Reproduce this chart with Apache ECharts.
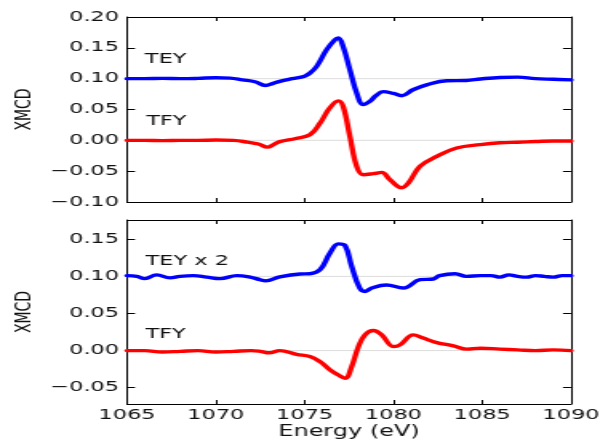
<!DOCTYPE html>
<html><head><meta charset="utf-8">
<script src="https://cdn.jsdelivr.net/npm/echarts@6/dist/echarts.min.js"></script>
<style>
html,body{margin:0;padding:0;background:#fff;overflow:hidden;}
#wrap{width:603px;height:441px;overflow:hidden;position:relative;background:#fff;}
#chart{width:377px;height:441px;transform:scaleX(1.6);transform-origin:0 0;}
</style></head><body>
<div id="wrap"><div id="chart"></div></div>
<script>
// ---- data (energy in eV, XMCD values) ----
const xTicks = [1065, 1070, 1075, 1080, 1085, 1090];
const yTicksTop = [-0.10, -0.05, 0.00, 0.05, 0.10, 0.15, 0.20];
const yTicksBottom = [-0.05, 0.00, 0.05, 0.10, 0.15];
const baselines = [0.10, 0.00];

const teyTopE = [1065.0,1066.0,1067.0,1068.0,1069.0,1070.0,1070.8,1071.5,1072.2,1072.8,1073.2,1073.6,1074.3,1075.0,1075.3,1075.68,1076.24,1076.7,1076.9,1077.17,1077.55,1077.93,1078.3,1078.67,1079.0,1079.43,1080.0,1080.47,1081.1,1081.87,1083.0,1084.1,1084.9,1086.0,1087.0,1088.0,1089.0,1090.0];
const teyTopV = [0.100,0.100,0.1005,0.100,0.1005,0.1015,0.1008,0.098,0.095,0.089,0.092,0.0956,0.100,0.104,0.109,0.120,0.147,0.163,0.166,0.152,0.1145,0.077,0.058,0.063,0.072,0.079,0.076,0.0724,0.082,0.090,0.0967,0.097,0.0995,0.102,0.1025,0.100,0.099,0.098];

const tfyTopE = [1065.0,1066.0,1067.0,1068.0,1069.0,1070.0,1071.0,1071.8,1072.4,1072.9,1073.3,1073.6,1074.5,1075.3,1075.87,1076.4,1076.9,1077.17,1077.55,1077.93,1078.3,1078.86,1079.34,1079.8,1080.47,1080.85,1081.5,1082.44,1083.56,1084.9,1086.0,1087.0,1088.0,1089.0,1090.0];
const tfyTopV = [0.000,0.000,-0.0005,0.000,0.000,0.0005,0.000,-0.003,-0.006,-0.011,-0.006,-0.002,0.003,0.009,0.028,0.052,0.064,0.055,0.0064,-0.042,-0.0557,-0.054,-0.052,-0.0638,-0.077,-0.069,-0.042,-0.026,-0.0124,-0.007,-0.004,-0.003,-0.002,-0.001,-0.001];

const teyBotE = [1065.0,1065.55,1066.0,1066.67,1067.42,1067.98,1068.73,1069.49,1070.24,1071.18,1071.93,1072.5,1072.8,1073.6,1074.74,1075.3,1075.87,1076.43,1076.9,1077.28,1077.65,1078.1,1078.4,1078.78,1079.6,1080.56,1081.5,1082.25,1082.6,1083.47,1084.1,1084.9,1085.5,1086.0,1086.5,1087.0,1087.5,1088.0,1088.5,1089.0,1089.5,1090.0];
const teyBotV = [0.101,0.100,0.097,0.102,0.098,0.100,0.101,0.099,0.097,0.101,0.099,0.0955,0.094,0.0992,0.1032,0.1036,0.109,0.1316,0.1438,0.1415,0.1135,0.0843,0.0797,0.0843,0.0884,0.0843,0.0955,0.0965,0.101,0.1036,0.100,0.101,0.101,0.099,0.102,0.100,0.099,0.101,0.100,0.099,0.101,0.101];

const tfyBotE = [1065.0,1066.0,1067.0,1068.0,1069.0,1070.0,1071.0,1072.0,1072.5,1073.0,1073.6,1074.55,1075.3,1075.87,1076.43,1076.9,1077.28,1077.65,1078.03,1078.4,1078.87,1079.34,1080.0,1080.37,1081.12,1081.68,1082.44,1083.38,1084.13,1084.9,1086.0,1087.0,1088.0,1089.0,1090.0];
const tfyBotV = [0.000,0.000,-0.002,-0.001,0.000,-0.002,-0.001,0.000,-0.001,-0.003,0.000,-0.005,-0.008,-0.015,-0.026,-0.033,-0.0373,-0.0216,0.0054,0.0212,0.027,0.0212,0.0054,0.0077,0.0212,0.0168,0.0108,0.0064,0.0019,0.0032,0.002,0.001,0.000,0.001,0.000];

// ---- build ----
const pair = (e, v) => e.map((x, i) => [x, v[i]]);
const fmt = v => (Math.abs(v) < 1e-9 ? 0 : v).toFixed(2).replace('-', '\u2212');
const FONT = 'DejaVu Sans';
const TXT = '#111';

function xAx(grid, pos, labels) {
  return {
    type: 'value', gridIndex: grid, position: pos, min: 1065, max: 1090, interval: 5,
    axisLine: { show: true, onZero: false, lineStyle: { color: '#000', width: 1 } },
    axisTick: { show: true, inside: true, length: 4, lineStyle: { color: '#000' } },
    axisLabel: { show: labels, margin: 4, fontFamily: FONT, fontSize: 14, color: TXT, formatter: v => String(v) },
    splitLine: { show: false },
    name: (labels ? 'Energy (eV)' : ''), nameLocation: 'middle', nameGap: 21, nameMoveOverlap: false,
    nameTextStyle: { fontFamily: FONT, fontSize: 15, color: TXT }
  };
}
function yAx(grid, pos, labels, range, ticks) {
  return {
    type: 'value', gridIndex: grid, position: pos, min: range[0], max: range[1],
    axisLine: { show: true, onZero: false, lineStyle: { color: '#000', width: 1 } },
    axisTick: { show: true, inside: true, length: 5, lineStyle: { color: '#000' }, customValues: ticks },
    axisLabel: { show: labels, margin: 5, fontFamily: FONT, fontSize: 14, color: TXT, formatter: fmt, customValues: ticks },
    splitLine: { show: false },
    name: (labels ? 'XMCD' : ''), nameLocation: 'middle', nameRotate: 90, nameGap: 57, nameMoveOverlap: false,
    nameTextStyle: { fontFamily: FONT, fontSize: 14, color: TXT }
  };
}
function base(xi, yi, val) {
  return { type: 'line', xAxisIndex: xi, yAxisIndex: yi, data: [[1065, val], [1090, val]],
    symbol: 'none', silent: true, z: 1, lineStyle: { color: '#dcdcdc', width: 1 } };
}
function curve(xi, yi, data, color) {
  return { type: 'line', xAxisIndex: xi, yAxisIndex: yi, data: data, symbol: 'none',
    smooth: 0.4, z: 3, lineStyle: { color: color, width: 3.4, cap: 'round', join: 'round' } };
}

const topRange = [-0.10, 0.20];
const botRange = [-0.072, 0.176];

const option = {
  animation: false,
  backgroundColor: '#fff',
  grid: [
    { left: 79.4, right: 20.1, top: 17, height: 185, containLabel: false, outerBoundsMode: 'none' },
    { left: 79.4, right: 20.1, top: 220, height: 184, containLabel: false, outerBoundsMode: 'none' }
  ],
  xAxis: [xAx(0, 'bottom', false), xAx(0, 'top', false), xAx(1, 'bottom', true), xAx(1, 'top', false)],
  yAxis: [yAx(0, 'left', true, topRange, yTicksTop), yAx(0, 'right', false, topRange, yTicksTop),
          yAx(1, 'left', true, botRange, yTicksBottom), yAx(1, 'right', false, botRange, yTicksBottom)],
  series: [
    base(0, 0, baselines[0]), base(0, 0, baselines[1]),
    base(2, 2, baselines[0]), base(2, 2, baselines[1]),
    curve(0, 0, pair(teyTopE, teyTopV), '#0000ff'),
    curve(0, 0, pair(tfyTopE, tfyTopV), '#ff0000'),
    curve(2, 2, pair(teyBotE, teyBotV), '#0000ff'),
    curve(2, 2, pair(tfyBotE, tfyBotV), '#ff0000')
  ],
  graphic: [
    { type: 'text', left: 90.6, top: 52, style: { text: 'TEY', font: '14px "DejaVu Sans"', fill: TXT } },
    { type: 'text', left: 91.5, top: 114, style: { text: 'TFY', font: '14px "DejaVu Sans"', fill: TXT } },
    { type: 'text', left: 91, top: 254, style: { text: 'TEY x 2', font: '14px "DejaVu Sans"', fill: TXT } },
    { type: 'text', left: 91, top: 327, style: { text: 'TFY', font: '14px "DejaVu Sans"', fill: TXT } }
  ]
};
const chart = echarts.init(document.getElementById('chart'), null, { renderer: 'canvas' });
chart.setOption(option);
</script>
</body></html>
